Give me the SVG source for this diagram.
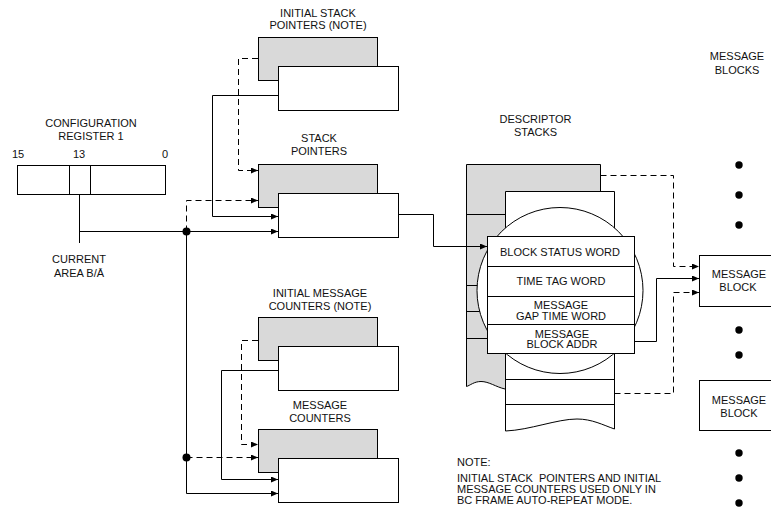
<svg xmlns="http://www.w3.org/2000/svg" width="771" height="508" viewBox="0 0 771 508">
<style>
  text { font-family: "Liberation Sans", Arial, sans-serif; font-size: 11px; fill: #111; text-anchor: middle; }
  .l { text-anchor: start; }
  .box { fill: #fff; stroke: #000; stroke-width: 1; }
  .gbox { fill: #d9d9d9; stroke: #000; stroke-width: 1; }
  .ln { fill: none; stroke: #000; stroke-width: 1; }
  .c { fill: none; stroke: #000; stroke-width: 1; }
  .d { fill: none; stroke: #000; stroke-width: 1; stroke-dasharray: 6 4; }
  .dot { fill: #000; }
</style>
<defs>
  <marker id="ah" markerUnits="userSpaceOnUse" markerWidth="7" markerHeight="6" refX="7" refY="3" orient="auto">
    <path d="M0,0 L7,3 L0,6 z" fill="#000"/>
  </marker>
</defs>
<rect width="771" height="508" fill="#fff"/>

<g id="config-register">
  <text x="91" y="127">CONFIGURATION</text>
  <text x="91" y="139.5">REGISTER 1</text>
  <text x="18" y="157.5">15</text>
  <text x="79" y="157.5">13</text>
  <text x="165" y="157.5">0</text>
  <rect class="box" x="17.5" y="165.5" width="148" height="29"/>
  <line class="ln" x1="69.5" y1="165.5" x2="69.5" y2="194.5"/>
  <line class="ln" x1="90.5" y1="165.5" x2="90.5" y2="194.5"/>
  <text x="79" y="262.5">CURRENT</text>
  <text x="79" y="276.5">AREA B/Ā</text>
</g>

<g id="initial-stack-pointers">
  <text x="318" y="16.7">INITIAL STACK</text>
  <text x="318" y="28.7">POINTERS (NOTE)</text>
  <rect class="gbox" x="258.5" y="37.5" width="119" height="43"/>
  <rect class="box" x="278.5" y="66.5" width="120" height="44"/>
</g>

<g id="stack-pointers">
  <text x="319" y="141.7">STACK</text>
  <text x="319" y="155">POINTERS</text>
  <rect class="gbox" x="258.5" y="164.5" width="119" height="43"/>
  <rect class="box" x="278.5" y="193.5" width="120" height="44"/>
</g>

<g id="initial-message-counters">
  <text x="320" y="296.7">INITIAL MESSAGE</text>
  <text x="320" y="309.5">COUNTERS (NOTE)</text>
  <rect class="gbox" x="258.5" y="317.5" width="119" height="43"/>
  <rect class="box" x="278.5" y="346.5" width="120" height="44"/>
</g>

<g id="message-counters">
  <text x="320" y="409.3">MESSAGE</text>
  <text x="320" y="422.3">COUNTERS</text>
  <rect class="gbox" x="258.5" y="429.5" width="119" height="43"/>
  <rect class="box" x="278.5" y="458.5" width="120" height="44"/>
</g>

<g id="descriptor-stacks">
  <text x="535.5" y="123.3">DESCRIPTOR</text>
  <text x="535.5" y="136">STACKS</text>
  <path class="gbox" d="M466.5,164.5 H600.5 V389 H505 C496,387 489,381.5 481,381.5 C474,381.5 470,385.5 466.5,386.5 Z"/>
  <line class="ln" x1="466.5" y1="214.5" x2="505.5" y2="214.5"/>
  <line class="ln" x1="466.5" y1="285.5" x2="505.5" y2="285.5"/>
  <line class="ln" x1="466.5" y1="311.5" x2="505.5" y2="311.5"/>
  <line class="ln" x1="466.5" y1="338.5" x2="505.5" y2="338.5"/>
  <path class="box" d="M505.5,191.5 H614.5 V429 C603,425 592,419 577,419 C557,419 530,430 505.5,431 Z"/>
  <line class="ln" x1="505.5" y1="379.5" x2="614.5" y2="379.5"/>
  <line class="ln" x1="505.5" y1="404.5" x2="614.5" y2="404.5"/>
  <circle class="box" cx="560" cy="290.5" r="83"/>
  <rect class="box" x="487.5" y="236.5" width="147" height="117"/>
  <line class="ln" x1="487.5" y1="266.5" x2="634.5" y2="266.5"/>
  <line class="ln" x1="487.5" y1="296.5" x2="634.5" y2="296.5"/>
  <line class="ln" x1="487.5" y1="324.5" x2="634.5" y2="324.5"/>
  <text x="560" y="255.5">BLOCK STATUS WORD</text>
  <text x="561" y="285">TIME TAG WORD</text>
  <text x="561" y="309.3">MESSAGE</text>
  <text x="561" y="320">GAP TIME WORD</text>
  <text x="562" y="337.7">MESSAGE</text>
  <text x="562" y="348.3">BLOCK ADDR</text>
</g>

<g id="message-blocks">
  <text x="737" y="60">MESSAGE</text>
  <text x="737" y="74">BLOCKS</text>
  <circle class="dot" cx="739" cy="165" r="3.7"/>
  <circle class="dot" cx="739" cy="195" r="3.7"/>
  <circle class="dot" cx="739" cy="225" r="3.7"/>
  <circle class="dot" cx="739" cy="330" r="3.7"/>
  <circle class="dot" cx="739" cy="355" r="3.7"/>
  <circle class="dot" cx="739" cy="453" r="3.7"/>
  <circle class="dot" cx="739" cy="478" r="3.7"/>
  <circle class="dot" cx="739" cy="503" r="3.7"/>
</g>

<g id="message-block-1">
  <rect class="box" x="699.5" y="255.5" width="90" height="51"/>
  <text x="739" y="278.3">MESSAGE</text>
  <text x="738" y="291">BLOCK</text>
</g>

<g id="message-block-2">
  <rect class="box" x="699.5" y="380.5" width="90" height="50"/>
  <text x="739" y="404.3">MESSAGE</text>
  <text x="739" y="417">BLOCK</text>
</g>

<g id="note">
  <text class="l" x="457" y="465.7">NOTE:</text>
  <text class="l" x="457" y="481.7" style="white-space:pre">INITIAL STACK  POINTERS AND INITIAL</text>
  <text class="l" x="457" y="493.3">MESSAGE COUNTERS USED ONLY IN</text>
  <text class="l" x="457" y="504.3">BC FRAME AUTO-REPEAT MODE.</text>
</g>

<g id="connectors">
  <path class="c" d="M79.5,194.5 V243"/>
  <path class="c" d="M79.5,231.5 H278" marker-end="url(#ah)"/>
  <path class="d" d="M186.5,231.5 V200.5 H258" marker-end="url(#ah)"/>
  <path class="c" d="M186.5,231.5 V493.5 H278" marker-end="url(#ah)"/>
  <path class="d" d="M186.5,457.5 H258" marker-end="url(#ah)"/>
  <circle class="dot" cx="186.5" cy="231.5" r="4"/>
  <circle class="dot" cx="186.5" cy="457.5" r="4"/>
  <path class="d" d="M258,58.5 H238.5 V170.5 H258" marker-end="url(#ah)"/>
  <path class="c" d="M278,95.5 H212.5 V216.5 H278" marker-end="url(#ah)"/>
  <path class="d" d="M258,340.5 H241.5 V444.5 H258" marker-end="url(#ah)"/>
  <path class="c" d="M278,370.5 H221.5 V479.5 H278" marker-end="url(#ah)"/>
  <path class="c" d="M398.5,214.5 H433.5 V246.5 H487" marker-end="url(#ah)"/>
  <path class="d" d="M600.5,175.5 H673.5 V266.5 H699" marker-end="url(#ah)"/>
  <path class="c" d="M634.5,341.5 H656.5 V278.5 H699" marker-end="url(#ah)"/>
  <path class="d" d="M614.5,393.5 H673.5 V292.5 H699" marker-end="url(#ah)"/>
</g>
</svg>
